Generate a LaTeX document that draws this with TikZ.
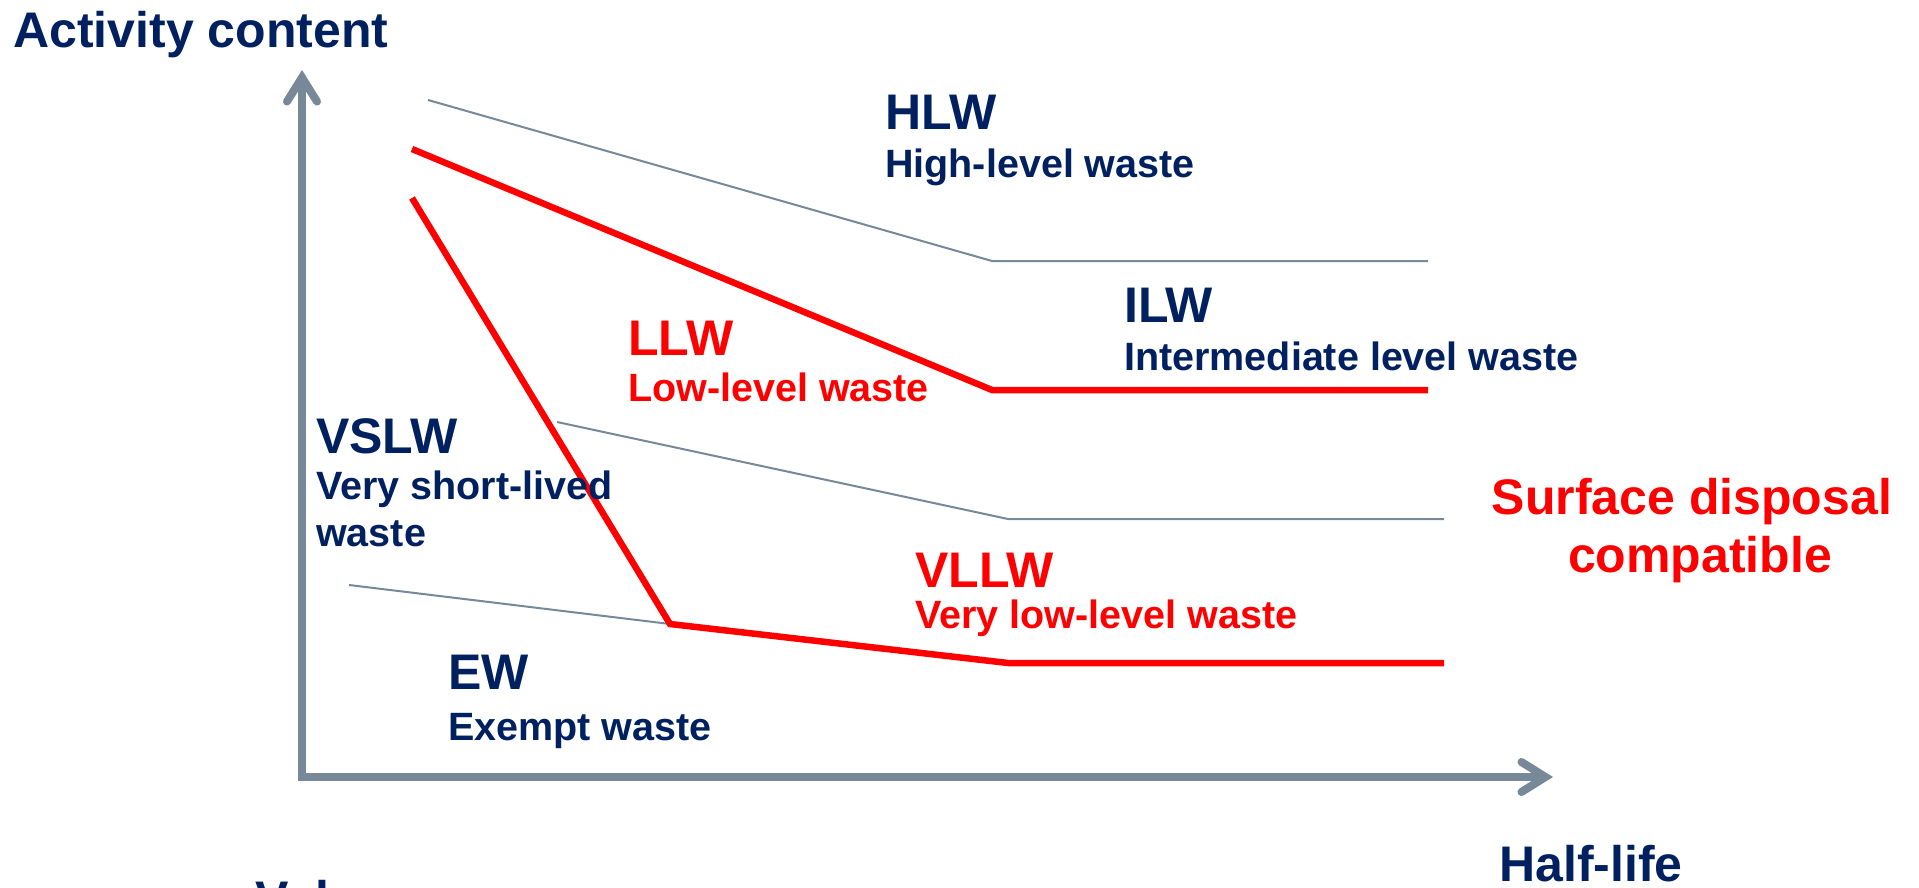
\documentclass[tikz,border=0pt]{standalone}
\usepackage{fontspec}
\setmainfont{Liberation Sans}
\usetikzlibrary{arrows.meta}
\definecolor{navy}{HTML}{002060}
\definecolor{slate}{HTML}{778899}
\definecolor{wred}{HTML}{FF0000}
\begin{document}
\begin{tikzpicture}[x=1pt,y=-1pt,
  big/.style={font=\fontsize{50}{60}\selectfont\bfseries, inner sep=0pt, anchor=base west},
  small/.style={font=\fontsize{39.5}{47}\selectfont\bfseries, inner sep=0pt, anchor=base west},
  navytext/.style={text=navy},
  redtext/.style={text=wred},
  barb/.tip={Straight Barb[length=24pt,width=30pt,line cap=round]},
  axisline/.style={draw=slate, line width=8pt, line join=miter, barb-barb},
  greyline/.style={draw=slate, line width=2pt},
  redline/.style={draw=wred, line width=6.5pt}]
\useasboundingbox (0,0) rectangle (1919,888);

% axes
\coordinate (ytip) at (302,70);
\coordinate (xtip) at (1553,777);
\draw[axisline] (ytip) |- (xtip);

% grey boundaries
\coordinate (h1) at (428,100);
\coordinate (h2) at (992,261);
\coordinate (h3) at (1428,261);
\draw[greyline] (h1) -- (h2) -- (h3);

\coordinate (m1) at (557,422);
\coordinate (m2) at (1008,519);
\coordinate (m3) at (1444,519);
\draw[greyline] (m1) -- (m2) -- (m3);

\coordinate (e1) at (349,585);
\coordinate (e2) at (670,624);
\draw[greyline] (e1) -- (e2);

% red boundaries
\coordinate (r1) at (412,149);
\coordinate (r2) at (992,390);
\coordinate (r3) at (1428,390);
\draw[redline] (r1) -- (r2) -- (r3);

\coordinate (s1) at (412,198);
\coordinate (s2) at (670,624);
\coordinate (s3) at (1008,663);
\coordinate (s4) at (1444,663);
\draw[redline] (s1) -- (s2) -- (s3) -- (s4);

% labels
\node[big,navytext] (act) at (13,48) {Activity content};
\node[big,navytext] (hlw) at (885,130) {HLW};
\node[small,navytext] (hlwt) at (885,177) {High-level waste};
\node[big,navytext] (ilw) at (1124,322) {ILW};
\node[small,navytext] (ilwt) at (1124,370) {Intermediate level waste};
\node[big,redtext] (llw) at (628,355) {LLW};
\node[small,redtext] (llwt) at (628,401) {Low-level waste};
\node[big,navytext] (vslw) at (316,453) {VSLW};
\node[small,navytext] (vslwt1) at (316,499) {Very short-lived};
\node[small,navytext] (vslwt2) at (316,546) {waste};
\node[big,redtext,anchor=base] (surf1) at (1692,514) {Surface disposal};
\node[big,redtext,anchor=base] (surf2) at (1700,572) {compatible};
\node[big,redtext] (vllw) at (915,587) {VLLW};
\node[small,redtext] (vllwt) at (915,628) {Very low-level waste};
\node[big,navytext] (ew) at (448,689) {EW};
\node[small,navytext] (ewt) at (448,740) {Exempt waste};
\node[big,navytext] (half) at (1499,881) {Half-life};
\begin{scope}
  \clip (0,0) rectangle (1919,888);
  \node[big,navytext] (vol) at (255,916) {Volume};
\end{scope}
\end{tikzpicture}
\end{document}
